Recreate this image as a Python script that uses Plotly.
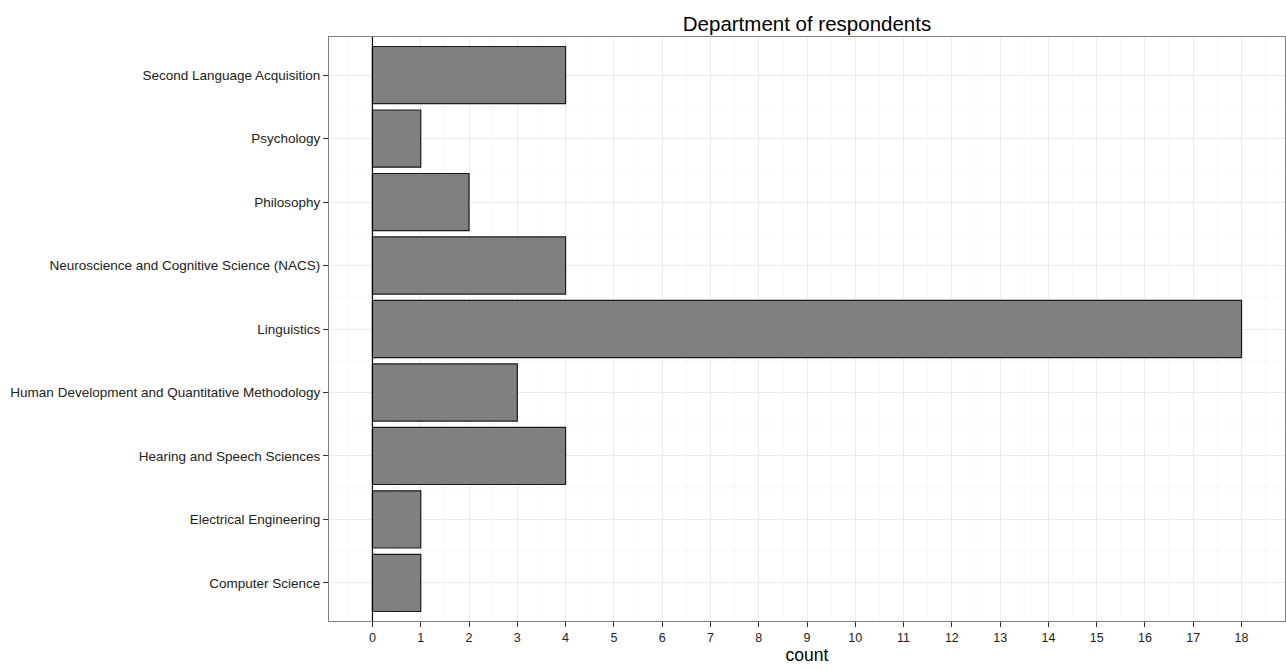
import plotly.graph_objects as go

departments = [
    "Computer Science",
    "Electrical Engineering",
    "Hearing and Speech Sciences",
    "Human Development and Quantitative Methodology",
    "Linguistics",
    "Neuroscience and Cognitive Science (NACS)",
    "Philosophy",
    "Psychology",
    "Second Language Acquisition",
]
counts = [1, 1, 4, 3, 18, 4, 2, 1, 4]
x_ticks = list(range(0, 19))

fig = go.Figure()
fig.add_trace(go.Bar(
    y=departments, x=counts, orientation="h", width=0.9,
    marker=dict(color="#808080", line=dict(color="#1a1a1a", width=1.2)),
))

# minor gridlines at half units
for v in [i + 0.5 for i in range(-1, 19)]:
    fig.add_shape(type="line", xref="x", yref="paper", x0=v, x1=v, y0=0, y1=1,
                  line=dict(color="#f4f4f4", width=0.6), layer="below")
for i in range(len(departments) - 1):
    fig.add_shape(type="line", xref="paper", yref="y", x0=0, x1=1, y0=i + 0.5, y1=i + 0.5,
                  line=dict(color="#f4f4f4", width=0.6), layer="below")

# zero line
fig.add_shape(type="line", xref="x", yref="paper", x0=0, x1=0, y0=0, y1=1,
              line=dict(color="black", width=1.2), layer="above")

fig.update_layout(
    width=1286, height=670,
    margin=dict(l=329, r=1, t=37, b=49),
    paper_bgcolor="white", plot_bgcolor="white",
    font=dict(family="Liberation Sans, Arial, sans-serif", color="#222222"),
    title=dict(text="Department of respondents", x=0.5, xref="paper",
               y=1, yref="paper", yanchor="bottom", pad=dict(b=6),
               font=dict(size=20.5, color="black")),
    showlegend=False,
    xaxis=dict(
        range=[-0.9, 18.9], tickvals=x_ticks, ticktext=[str(t) for t in x_ticks],
        showgrid=True, gridcolor="#ebebeb", gridwidth=0.8,
        zeroline=False, ticks="outside", ticklen=5, tickcolor="#333333",
        tickfont=dict(size=12.5, color="#222222"),
        showline=True, linecolor="#7f7f7f", linewidth=1, mirror=True,
        title=dict(text="count", font=dict(size=17.5, color="black"), standoff=4),
    ),
    yaxis=dict(
        categoryorder="array", categoryarray=departments,
        range=[-0.6, 8.6],
        showgrid=True, gridcolor="#ebebeb", gridwidth=0.8,
        ticks="outside", ticklen=5, tickcolor="#333333",
        tickfont=dict(size=13.5, color="#222222"),
        showline=True, linecolor="#7f7f7f", linewidth=1, mirror=True,
    ),
)

fig.write_html("out.html", config={"displayModeBar": False},
               post_script="document.body.style.margin='0';document.body.style.overflow='hidden';")
